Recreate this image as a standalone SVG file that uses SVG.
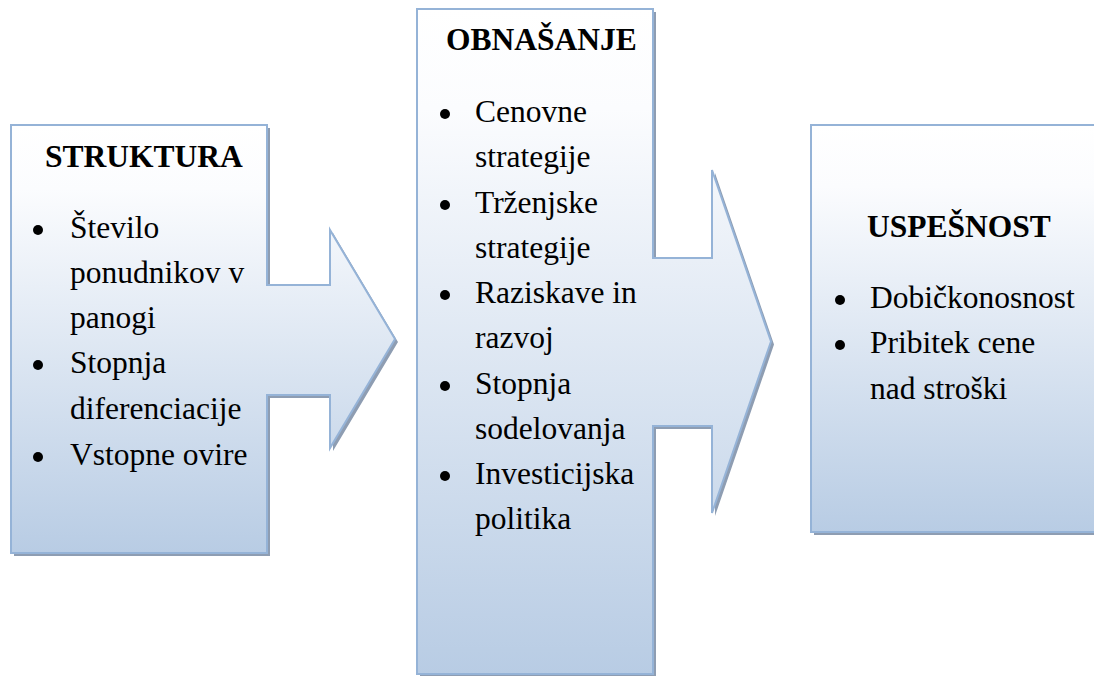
<svg xmlns="http://www.w3.org/2000/svg" width="1094" height="676" viewBox="0 0 1094 676">
<defs>
<linearGradient id="g" x1="0" y1="0" x2="0" y2="1">
<stop offset="0" stop-color="#ffffff"/>
<stop offset="0.15" stop-color="#fbfcfe"/>
<stop offset="1" stop-color="#b8cce4"/>
</linearGradient>
<style>
.sh{fill:#8e9db2;stroke:none}
.bx{fill:url(#g);stroke:#95b3d7;stroke-width:2;stroke-linejoin:miter}
.t{font-family:'Liberation Serif','Times New Roman',Tinos,'DejaVu Serif',serif;font-size:31.5px;fill:#000}
.h{font-weight:bold}
.b{fill:#000}
</style>
</defs>
<rect width="1094" height="676" fill="#fff"/>
<g id="struktura">
<path class="sh" transform="translate(3,3)" d="M11,125 H267 V285 H330 V230 L395,339 L330,448 V395 H267 V553 H11 Z"/>
<path class="bx" d="M11,125 H267 V285 H330 V230 L395,339 L330,448 V395 H267 V553 H11 Z"/>
<g class="t" font-family="Liberation Serif, Times New Roman, DejaVu Serif, serif">
<text class="h" x="45" y="167">STRUKTURA</text>
<text x="70" y="238">Število</text>
<text x="70" y="283">ponudnikov v</text>
<text x="70" y="328">panogi</text>
<text x="70" y="373">Stopnja</text>
<text x="70" y="419">diferenciacije</text>
<text x="70" y="465">Vstopne ovire</text>
</g>
<circle class="b" cx="38" cy="230" r="5"/>
<circle class="b" cx="38" cy="365" r="5"/>
<circle class="b" cx="38" cy="457" r="5"/>
</g>
<g id="obnasanje">
<path class="sh" transform="translate(3,3)" d="M417,9 H653 V258 H712 V170 L771,341.5 L712,513 V426 H653 V674 H417 Z"/>
<path class="bx" d="M417,9 H653 V258 H712 V170 L771,341.5 L712,513 V426 H653 V674 H417 Z"/>
<g class="t" font-family="Liberation Serif, Times New Roman, DejaVu Serif, serif">
<text class="h" x="446" y="50">OBNAŠANJE</text>
<text x="475" y="122">Cenovne</text>
<text x="475" y="167">strategije</text>
<text x="475" y="213">Trženjske</text>
<text x="475" y="258">strategije</text>
<text x="475" y="303">Raziskave in</text>
<text x="475" y="348">razvoj</text>
<text x="475" y="394">Stopnja</text>
<text x="475" y="439">sodelovanja</text>
<text x="475" y="484">Investicijska</text>
<text x="475" y="529">politika</text>
</g>
<circle class="b" cx="445" cy="114" r="5"/>
<circle class="b" cx="445" cy="205" r="5"/>
<circle class="b" cx="445" cy="295" r="5"/>
<circle class="b" cx="445" cy="386" r="5"/>
<circle class="b" cx="445" cy="476" r="5"/>
</g>
<g id="uspesnost">
<rect class="sh" x="814" y="128" width="290" height="407"/>
<rect class="bx" x="811" y="125" width="290" height="407"/>
<g class="t" font-family="Liberation Serif, Times New Roman, DejaVu Serif, serif">
<text class="h" x="867" y="237">USPEŠNOST</text>
<text x="870" y="308">Dobičkonosnost</text>
<text x="870" y="353">Pribitek cene</text>
<text x="870" y="399">nad stroški</text>
</g>
<circle class="b" cx="840" cy="300" r="5"/>
<circle class="b" cx="840" cy="345" r="5"/>
</g>
<g id="connectors"/>
</svg>
